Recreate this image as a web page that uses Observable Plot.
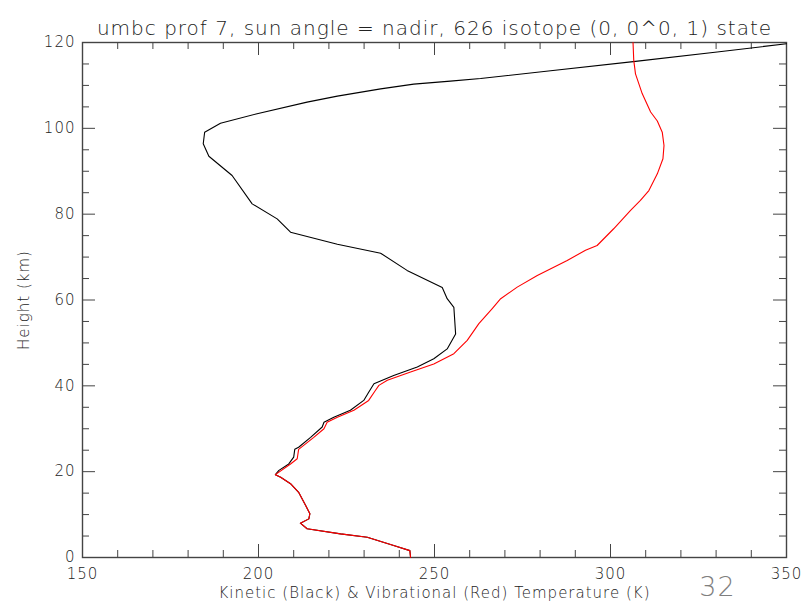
<!DOCTYPE html>
<html><head><meta charset="utf-8">
<script src="https://cdn.jsdelivr.net/npm/d3@7"></script>
<script src="https://cdn.jsdelivr.net/npm/@observablehq/plot@0.6"></script>
<style>body{margin:0;background:#fff}</style>
</head><body><div id="chart"></div>
<script>
const titleText = "umbc prof 7, sun angle = nadir, 626 isotope (0, 0^0, 1) state";
const xLabelText = "Kinetic (Black) & Vibrational (Red) Temperature (K)";
const yLabelText = "Height (km)";
const pageNumber = "32";

const xMajorTicks = [150, 200, 250, 300, 350];
const xMinorTicks = [160,170,180,190,210,220,230,240,260,270,280,290,310,320,330,340];
const yMajorTicks = [0, 20, 40, 60, 80, 100, 120];
const yMinorTicks = [5,10,15,25,30,35,45,50,55,65,70,75,85,90,95,105,110,115];

// Kinetic temperature (black): height km, temperature K
const kineticH = [0,1.6,2.8,4.7,5.5,6.7,8.0,9.0,10.2,12.1,15.2,17.2,18.7,19.3,20.3,21.8,23.4,25.2,25.7,28.0,30.4,31.5,32.7,34.3,36.6,38.5,40.5,42.4,44.4,46.3,48.6,52.1,58.3,60.3,62.9,66.9,70.9,73.0,75.8,78.9,82.4,89.0,93.5,96.4,99.1,101.2,103.4,106.1,107.5,109.2,110.3,111.0,111.6,113.4,115.6,117.8,119.7];
const kineticT = [243.2,243.0,238.4,230.9,223.3,213.8,211.9,214.3,214.6,213.4,211.4,209.1,206.3,204.8,205.8,208.6,210.0,210.3,211.4,214.8,218.1,218.6,221.4,226.1,229.9,231.3,232.8,238.4,245.1,249.8,253.6,256.0,255.5,253.6,252.2,242.2,234.7,222.4,209.1,205.3,198.2,192.5,185.9,184.3,184.7,189.2,199.6,213.8,222.4,234.7,244.1,254.5,263.1,283.0,307.1,330.3,350.0];

// Vibrational temperature (red)
const vibH = [0,1.6,2.8,4.7,5.5,6.7,8.0,9.0,10.2,12.1,15.2,17.2,18.7,19.3,21.8,23.0,25.2,28.0,30.0,31.5,32.7,34.3,36.6,38.8,40.1,41.3,43.2,45.1,47.5,50.6,54.5,58.0,60.3,63.0,65.7,69.2,71.6,72.7,76.6,80.9,83.2,85.5,89.4,92.9,96.0,99.1,101.7,103.8,108.1,112.7,115.9,120];
const vibT = [243.2,243.0,238.4,230.9,223.3,213.8,211.9,214.3,214.6,213.4,211.4,209.1,206.3,204.8,209.1,211.0,211.4,215.7,218.6,219.5,222.4,227.1,231.3,233.1,234.2,236.6,243.2,249.8,255.5,259.3,262.6,266.4,268.8,273.5,279.2,287.7,292.9,296.2,300.9,305.7,308.5,310.9,313.3,314.9,315.2,314.7,313.3,311.4,309.0,307.1,306.6,306.4];

const kinetic = kineticH.map((h, i) => ({h, t: kineticT[i]}));
const vib = vibH.map((h, i) => ({h, t: vibT[i]}));

const W = 804, H = 606, mL = 82, mR = 18, mT = 42, mB = 49;
const plotW = W - mL - mR, plotH = H - mT - mB;
const axisColor = "#444";
const font = "DejaVu Sans";

const chart = Plot.plot({
  width: W, height: H,
  marginLeft: mL, marginRight: mR, marginTop: mT, marginBottom: mB,
  style: {fontFamily: font, fontSize: "15px", background: "#fff", color: "#222", letterSpacing: "1px", fontWeight: 300},
  x: {domain: [150, 350], axis: null},
  y: {domain: [0, 120], axis: null},
  marks: [
    // inward ticks
    Plot.gridX(xMajorTicks, {stroke: axisColor, strokeOpacity: 1, insetTop: plotH - 13}),
    Plot.gridX(xMinorTicks, {stroke: axisColor, strokeOpacity: 1, insetTop: plotH - 7}),
    Plot.gridX(xMajorTicks, {stroke: axisColor, strokeOpacity: 1, insetBottom: plotH - 13}),
    Plot.gridX(xMinorTicks, {stroke: axisColor, strokeOpacity: 1, insetBottom: plotH - 7}),
    Plot.gridY(yMajorTicks, {stroke: axisColor, strokeOpacity: 1, insetRight: plotW - 13}),
    Plot.gridY(yMinorTicks, {stroke: axisColor, strokeOpacity: 1, insetRight: plotW - 7}),
    Plot.gridY(yMajorTicks, {stroke: axisColor, strokeOpacity: 1, insetLeft: plotW - 13}),
    Plot.gridY(yMinorTicks, {stroke: axisColor, strokeOpacity: 1, insetLeft: plotW - 7}),
    Plot.frame({stroke: axisColor, strokeWidth: 1.4}),
    // tick labels
    Plot.axisX(xMajorTicks, {anchor: "bottom", tickSize: 0, tickPadding: 11, fill: "#222", label: null}),
    Plot.axisY(yMajorTicks, {anchor: "left", tickSize: 0, tickPadding: 7, fill: "#222", label: null}),
    // curves
    Plot.line(kinetic, {x: "t", y: "h", stroke: "#000", strokeWidth: 1.1}),
    Plot.line(vib, {x: "t", y: "h", stroke: "#ff0000", strokeWidth: 1.1}),
    // texts
    Plot.text([titleText], {frameAnchor: "top", dy: -22, fontSize: 20, fill: "#222"}),
    Plot.text([xLabelText], {frameAnchor: "bottom", dy: 40, fontSize: 15, fill: "#222"}),
    Plot.text([yLabelText], {frameAnchor: "left", dx: -58, rotate: -90, fontSize: 15, fill: "#222", textAnchor: "middle"}),
    Plot.text([pageNumber], {frameAnchor: "bottom-right", dx: -69, dy: 38, fontSize: 27, fill: "#7f7f7f", textAnchor: "middle"})
  ]
});
document.getElementById("chart").appendChild(chart);
</script>
</body></html>
